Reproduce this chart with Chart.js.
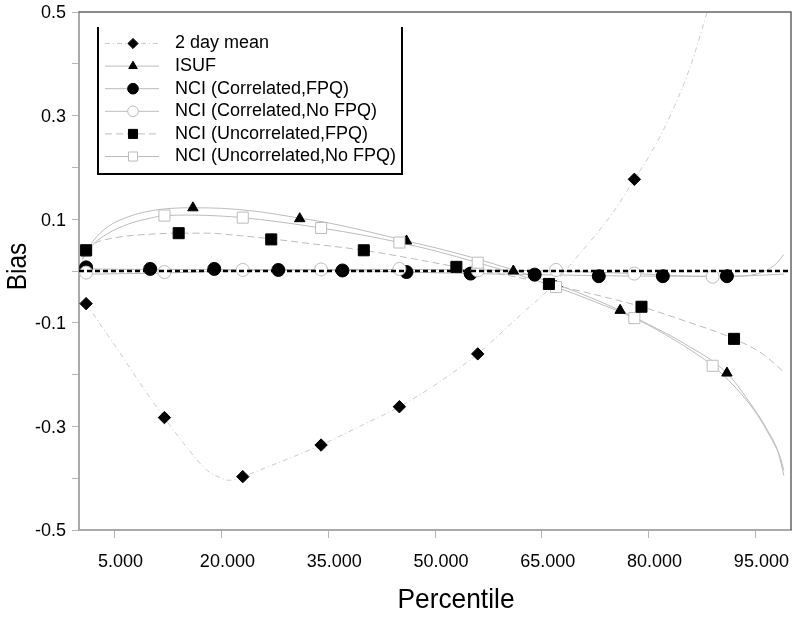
<!DOCTYPE html>
<html>
<head>
<meta charset="utf-8">
<script src="https://cdn.jsdelivr.net/npm/chart.js@4.4.1/dist/chart.umd.min.js"></script>
<style>
html,body{margin:0;padding:0;background:#fff;}
#wrap{width:800px;height:622px;}
</style>
</head>
<body>
<div id="wrap"><canvas id="c" width="800" height="622"></canvas></div>
<script>
// ---------------- DATA ----------------
const seriesLabels = ['2 day mean','ISUF','NCI (Correlated,FPQ)','NCI (Correlated,No FPQ)','NCI (Uncorrelated,FPQ)','NCI (Uncorrelated,No FPQ)'];
const xTickValues = [5,20,35,50,65,80,95];
const yTickLabels = [-0.5,-0.3,-0.1,0.1,0.3,0.5];
const xTitle = 'Percentile';
const yTitle = 'Bias';

// marker points
const twoDayX = [1,12,23,34,45,56,67,78];
const twoDayY = [-0.063,-0.283,-0.397,-0.336,-0.262,-0.160,-0.030,0.177];
const isufX = [1,16,31,46,61,76,91];
const isufY = [0.035,0.122,0.101,0.058,0.000,-0.076,-0.197];
const corrFpqX = [1,10,19,28,37,46,55,64,73,82,91];
const corrFpqY = [0.007,0.004,0.004,0.002,0.001,-0.002,-0.005,-0.007,-0.010,-0.010,-0.010];
const corrNoFpqX = [1,12,23,34,45,56,67,78,89];
const corrNoFpqY = [-0.003,-0.002,0.002,0.003,0.004,0.001,0.002,-0.005,-0.011];
const uncFpqX = [1,14,27,40,53,66,79,92];
const uncFpqY = [0.040,0.073,0.061,0.040,0.008,-0.025,-0.069,-0.131];
const uncNoFpqX = [1,12,23,34,45,56,67,78,89];
const uncNoFpqY = [0.040,0.107,0.103,0.083,0.055,0.016,-0.031,-0.091,-0.183];

// fitted curves
const twoDayCurveX = [1,5,10,15,18,20,21,22,23,28,34,40,45,50,56,59,62,66,70,75,78,80,82,84,86,88,90];
const twoDayCurveY = [-0.063,-0.143,-0.245,-0.338,-0.385,-0.400,-0.404,-0.402,-0.397,-0.370,-0.336,-0.296,-0.262,-0.220,-0.160,-0.123,-0.085,-0.035,0.028,0.113,0.177,0.220,0.270,0.330,0.400,0.490,0.580];
const isufCurveX = [0.5,1,2,4,7,10,13,16,20,25,31,35,40,46,50,55,61,65,70,76,80,85,91,94,96.6,98.2,99];
const isufCurveY = [0.022,0.035,0.058,0.085,0.105,0.116,0.121,0.122,0.121,0.115,0.102,0.093,0.078,0.058,0.045,0.027,0.002,-0.016,-0.041,-0.076,-0.103,-0.140,-0.197,-0.250,-0.305,-0.350,-0.395];
const corrFpqCurveX = [1,10,19,28,37,46,55,64,73,82,91,96,99];
const corrFpqCurveY = [0.004,0.003,0.003,0.002,0.001,-0.002,-0.005,-0.007,-0.009,-0.010,-0.010,-0.008,-0.006];
const corrNoFpqCurveX = [1,12,23,34,45,56,67,78,89,93,96,98,99];
const corrNoFpqCurveY = [-0.006,-0.004,0.001,0.003,0.003,0.002,0.000,-0.005,-0.011,-0.010,-0.002,0.015,0.032];
const uncFpqCurveX = [1,2,5,10,14,18,22,27,33,40,46,53,60,66,72,79,85,92,96,99];
const uncFpqCurveY = [0.040,0.052,0.064,0.071,0.073,0.073,0.069,0.062,0.052,0.040,0.026,0.008,-0.008,-0.025,-0.044,-0.069,-0.096,-0.131,-0.160,-0.195];
const uncNoFpqCurveX = [0.5,1,2,4,7,10,12,16,20,23,28,34,40,45,50,56,60,67,72,78,83,89,92,95,97,98.5,99];
const uncNoFpqCurveY = [0.024,0.036,0.052,0.072,0.091,0.102,0.107,0.108,0.106,0.103,0.095,0.083,0.069,0.055,0.039,0.016,0.000,-0.031,-0.057,-0.091,-0.128,-0.183,-0.222,-0.272,-0.318,-0.360,-0.385];

const zeroLineX = [0,100];
const zeroLineY = [0,0];

// ---------------- STYLES ----------------
const FONT = '"Liberation Sans", Arial, sans-serif';
const styles = [
  {dash:[5,3,1,3], lineColor:'#cacaca', point:'rectRot', radius:6.2, fill:'#000', border:'#000', order:2},
  {dash:[], lineColor:'#bcbcbc', point:'triangle', radius:6, fill:'#000', border:'#000', order:3},
  {dash:[], lineColor:'#bcbcbc', point:'circle', radius:6.5, fill:'#000', border:'#000', order:5},
  {dash:[], lineColor:'#bcbcbc', point:'circle', radius:6.5, fill:'#fff', border:'#bcbcbc', order:4},
  {dash:[7,4], lineColor:'#bcbcbc', point:'rect', radius:7.8, fill:'#000', border:'#000', order:0},
  {dash:[], lineColor:'#bcbcbc', point:'rect', radius:7.8, fill:'#fff', border:'#bcbcbc', order:1}
];

const markerX = [twoDayX,isufX,corrFpqX,corrNoFpqX,uncFpqX,uncNoFpqX];
const markerY = [twoDayY,isufY,corrFpqY,corrNoFpqY,uncFpqY,uncNoFpqY];
const curveX = [twoDayCurveX,isufCurveX,corrFpqCurveX,corrNoFpqCurveX,uncFpqCurveX,uncNoFpqCurveX];
const curveY = [twoDayCurveY,isufCurveY,corrFpqCurveY,corrNoFpqCurveY,uncFpqCurveY,uncNoFpqCurveY];

const zip = (xs, ys) => xs.map((x, i) => ({x: x, y: ys[i]}));

const datasets = [];
seriesLabels.forEach((lab, i) => {
  const s = styles[i];
  datasets.push({
    label: lab + ' curve',
    data: zip(curveX[i], curveY[i]),
    showLine: true,
    borderColor: s.lineColor,
    borderWidth: 1,
    borderDash: s.dash,
    pointRadius: 0,
    cubicInterpolationMode: 'monotone',
    fill: false,
    order: 20 + i
  });
});
seriesLabels.forEach((lab, i) => {
  const s = styles[i];
  datasets.push({
    label: lab,
    data: zip(markerX[i], markerY[i]),
    showLine: false,
    pointStyle: s.point,
    pointRadius: s.radius,
    pointBackgroundColor: s.fill,
    pointBorderColor: s.border,
    pointBorderWidth: 1,
    order: s.order
  });
});
datasets.push({
  label: 'zero',
  data: zip(zeroLineX, zeroLineY),
  showLine: true,
  borderColor: '#000',
  borderWidth: 2.6,
  borderDash: [5,3],
  pointRadius: 0,
  order: -1
});

// ---------------- PLUGINS ----------------
const framePlugin = {
  id: 'frame',
  afterDraw(chart) {
    const {ctx, chartArea: a} = chart;
    ctx.save();
    ctx.strokeStyle = '#666';
    ctx.lineWidth = 1.5;
    ctx.beginPath();
    ctx.moveTo(a.left, a.top);
    ctx.lineTo(a.right, a.top);
    ctx.lineTo(a.right, a.bottom);
    ctx.stroke();
    // axis titles (slightly condensed, as in the original)
    ctx.fillStyle = '#000';
    ctx.font = '28px ' + FONT;
    ctx.textAlign = 'center';
    ctx.textBaseline = 'middle';
    ctx.save();
    ctx.translate(a.left + 377, 600);
    ctx.scale(0.94, 1);
    ctx.fillText(xTitle, 0, 0);
    ctx.restore();
    ctx.save();
    ctx.translate(18, 266.5);
    ctx.rotate(-Math.PI / 2);
    ctx.scale(0.87, 1);
    ctx.fillText(yTitle, 0, 0);
    ctx.restore();
    ctx.restore();
  }
};

const legendPlugin = {
  id: 'boxLegend',
  afterDraw(chart) {
    const {ctx, chartArea: a} = chart;
    const left = a.left + 19, right = a.left + 323, top = a.top + 15, bottom = a.top + 162;
    ctx.save();
    ctx.fillStyle = '#fff';
    ctx.fillRect(left, top, right - left, bottom - top);
    ctx.strokeStyle = '#000';
    ctx.lineWidth = 2;
    ctx.setLineDash([]);
    ctx.beginPath();
    ctx.moveTo(left, top);
    ctx.lineTo(left, bottom);
    ctx.lineTo(right, bottom);
    ctx.lineTo(right, top);
    ctx.stroke();
    seriesLabels.forEach((lab, i) => {
      const s = styles[i];
      const y = top + 16.5 + i * 22.6;
      ctx.strokeStyle = s.lineColor;
      ctx.lineWidth = 1;
      ctx.setLineDash(s.dash);
      ctx.beginPath();
      ctx.moveTo(left + 7, y);
      ctx.lineTo(left + 61, y);
      ctx.stroke();
      ctx.setLineDash([]);
      ctx.fillStyle = s.fill;
      ctx.strokeStyle = s.border;
      ctx.lineWidth = 1;
      Chart.helpers.drawPoint(ctx, {pointStyle: s.point, radius: s.radius * 0.82, rotation: 0, borderWidth: 1}, left + 35, y);
      ctx.fillStyle = '#000';
      ctx.font = '18px ' + FONT;
      ctx.textBaseline = 'middle';
      ctx.textAlign = 'left';
      ctx.fillText(lab, left + 77, y);
    });
    ctx.restore();
  }
};

// ---------------- CHART ----------------
new Chart(document.getElementById('c'), {
  type: 'scatter',
  data: {datasets: datasets},
  options: {
    responsive: false,
    animation: false,
    events: [],
    devicePixelRatio: 1,
    layout: {padding: {top: 12, right: 9, left: 0, bottom: 0}},
    plugins: {legend: {display: false}, tooltip: {enabled: false}},
    scales: {
      x: {
        type: 'linear',
        min: 0, max: 100,
        afterBuildTicks: (s) => { s.ticks = xTickValues.map(v => ({value: v})); },
        afterFit: (s) => { s.height = 92; s.paddingLeft = 0; s.paddingRight = 0; },
        ticks: {
          callback: (v) => Number(v).toFixed(3),
          font: {family: FONT, size: 18},
          color: '#000',
          padding: 13,
          labelOffset: 6,
          maxRotation: 0,
          autoSkip: false
        },
        grid: {drawOnChartArea: false, drawTicks: true, tickLength: 8, color: '#b5b5b5', lineWidth: 1},
        border: {display: true, color: '#aaa', width: 2},
        title: {display: false}
      },
      y: {
        type: 'linear',
        min: -0.5, max: 0.5,
        afterFit: (s) => { s.width = 79; s.paddingTop = 0; s.paddingBottom = 0; },
        ticks: {
          stepSize: 0.1,
          callback: (v) => {
            const hit = yTickLabels.find(l => Math.abs(l - v) < 1e-6);
            return hit === undefined ? '' : String(hit);
          },
          font: {family: FONT, size: 18},
          color: '#000',
          padding: 6,
          labelOffset: 1.5,
          autoSkip: false
        },
        grid: {drawOnChartArea: false, drawTicks: true, tickLength: 7, color: '#b5b5b5', lineWidth: 1},
        border: {display: true, color: '#aaa', width: 2},
        title: {display: false}
      }
    }
  },
  plugins: [framePlugin, legendPlugin]
});
</script>
</body>
</html>
